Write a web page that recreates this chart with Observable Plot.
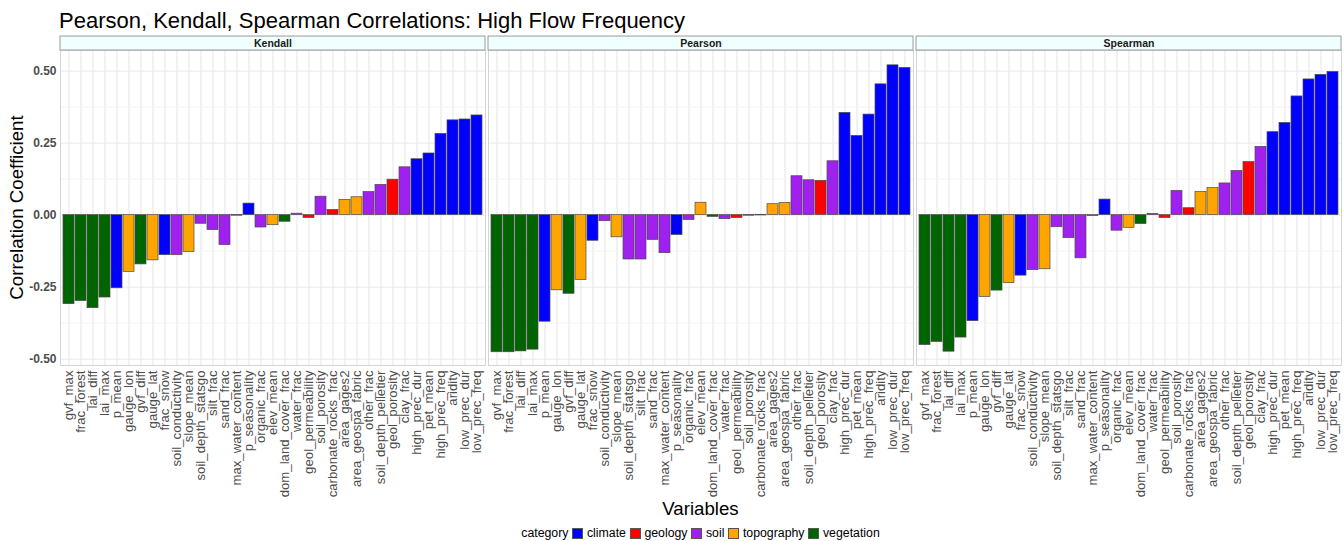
<!DOCTYPE html>
<html><head><meta charset="utf-8">
<script src="https://cdn.jsdelivr.net/npm/d3@7"></script>
<script src="https://cdn.jsdelivr.net/npm/@observablehq/plot@0.6"></script>
<style>
body{margin:0;background:#fff;font-family:"Liberation Sans",Arial,sans-serif;width:1344px;color:#000;}
#title{height:36px;box-sizing:border-box;padding:10px 0 0 59px;font-size:22px;line-height:22px;white-space:nowrap;}
#xtitle{height:22px;line-height:22px;box-sizing:border-box;padding:0 3px 0 60px;text-align:center;font-size:18.67px;}
#legend{height:26px;box-sizing:border-box;padding:0 3px 0 60px;display:flex;justify-content:center;align-items:center;font-size:12.3px;}
#legend .sw{display:inline-block;width:11px;height:11px;box-sizing:border-box;border:1px solid #555;margin:0 3.5px 0 4px;}
svg [aria-label^="y-axis"] text{fill:#4d4d4d;font-weight:bold;font-size:12px;}
svg [aria-label^="x-axis"] text{fill:#4d4d4d;font-weight:normal;font-size:13.2px;}
</style>
</head><body>
<div id="title">Pearson, Kendall, Spearman Correlations: High Flow Frequency</div>
<div id="chart"></div>
<div id="xtitle">Variables</div>
<div id="legend"></div>
<script>
const methods = ["Kendall", "Pearson", "Spearman"];
const variables = ["gvf_max","frac_forest","lai_diff","lai_max","p_mean","gauge_lon","gvf_diff","gauge_lat","frac_snow","soil_conductivity","slope_mean","soil_depth_statsgo","silt_frac","sand_frac","max_water_content","p_seasonality","organic_frac","elev_mean","dom_land_cover_frac","water_frac","geol_permeability","soil_porosity","carbonate_rocks_frac","area_gages2","area_geospa_fabric","other_frac","soil_depth_pelletier","geol_porosity","clay_frac","high_prec_dur","pet_mean","high_prec_freq","aridity","low_prec_dur","low_prec_freq"];
const variableCategory = ["vegetation","vegetation","vegetation","vegetation","climate","topography","vegetation","topography","climate","soil","topography","soil","soil","soil","soil","climate","soil","topography","vegetation","soil","geology","soil","geology","topography","topography","soil","soil","geology","soil","climate","climate","climate","climate","climate","climate"];
const kendall = [-0.309,-0.298,-0.323,-0.286,-0.254,-0.197,-0.171,-0.157,-0.139,-0.139,-0.128,-0.030,-0.052,-0.104,-0.002,0.040,-0.043,-0.035,-0.023,0.005,-0.010,0.064,0.018,0.053,0.062,0.080,0.105,0.123,0.166,0.194,0.214,0.282,0.329,0.332,0.346];
const pearson = [-0.476,-0.476,-0.473,-0.467,-0.370,-0.261,-0.273,-0.225,-0.089,-0.021,-0.077,-0.154,-0.154,-0.086,-0.132,-0.069,-0.017,0.043,-0.006,-0.014,-0.010,-0.002,-0.001,0.038,0.042,0.135,0.121,0.119,0.187,0.355,0.275,0.349,0.454,0.520,0.511];
const spearman = [-0.451,-0.440,-0.474,-0.425,-0.368,-0.284,-0.262,-0.236,-0.210,-0.191,-0.188,-0.042,-0.080,-0.150,-0.003,0.054,-0.054,-0.044,-0.031,0.004,-0.010,0.084,0.024,0.080,0.094,0.110,0.153,0.184,0.237,0.288,0.320,0.412,0.471,0.487,0.497];
const categoryNames = ["climate","geology","soil","topography","vegetation"];
const categoryColors = ["#0000ff","#ff0000","#a020f0","#ffa500","#006400"];
const yTicks = [-0.5,-0.25,0,0.25,0.5];
const yMinor = [-0.375,-0.125,0.125,0.375];
const yDomain = [-0.522, 0.5715];
const stripBand = [[0.5715, 0.620]];

const series = [kendall, pearson, spearman];
const rows = [];
methods.forEach((m, mi) => variables.forEach((v, i) => rows.push({method: m, variable: v, category: variableCategory[i], value: series[mi][i]})));

const chart = Plot.plot({
  width: 1344, height: 462,
  marginLeft: 60, marginRight: 3, marginTop: 14, marginBottom: 133,
  style: {fontFamily: '"Liberation Sans", Arial, sans-serif', fontSize: "12px", color: "#000", background: "#fff", overflow: "visible"},
  facet: {data: rows, x: "method"},
  fx: {domain: methods, paddingInner: 0.008, paddingOuter: 0, axis: null},
  x: {domain: variables, paddingInner: 0.1, paddingOuter: 0.15, tickRotate: -90, tickSize: 0, tickPadding: 5, label: null, grid: true},
  y: {domain: yDomain, ticks: yTicks, tickFormat: d => d.toFixed(2), tickSize: 0, tickPadding: 4, label: null},
  color: {domain: categoryNames, range: categoryColors},
  marks: [
    Plot.ruleY(yMinor, {stroke: "#f4f4f4"}),
    Plot.ruleY(yTicks, {stroke: "#ebebeb"}),
    Plot.frame({stroke: "#d4d4d4"}),
    Plot.rect(stripBand, {y1: d => d[0], y2: d => d[1], fill: "#f0ffff", stroke: "#9a9a9a", strokeWidth: 1}),
    Plot.barY(rows, {x: "variable", y: "value", fill: "category", stroke: "#4a4a4a", strokeWidth: 0.7}),
    Plot.text(rows, Plot.selectFirst({text: "method", frameAnchor: "top", lineAnchor: "middle", dy: -7, fontWeight: "bold", fontSize: 10.5, fill: "#1a1a1a"}))
  ]
});
document.getElementById("chart").appendChild(chart);
const svg = chart.tagName.toLowerCase() === "svg" ? chart : chart.querySelector("svg");
d3.select(svg).append("text")
  .attr("transform", "translate(23,171.5) rotate(-90)")
  .attr("text-anchor", "middle")
  .attr("font-size", "18.67px")
  .attr("fill", "#000")
  .text("Correlation Coefficient");

const legend = document.getElementById("legend");
const head = document.createElement("span"); head.textContent = "category"; legend.appendChild(head);
categoryNames.forEach((c, i) => {
  const sw = document.createElement("span"); sw.className = "sw"; sw.style.background = categoryColors[i]; legend.appendChild(sw);
  const t = document.createElement("span"); t.textContent = c; legend.appendChild(t);
});
</script>
</body></html>
